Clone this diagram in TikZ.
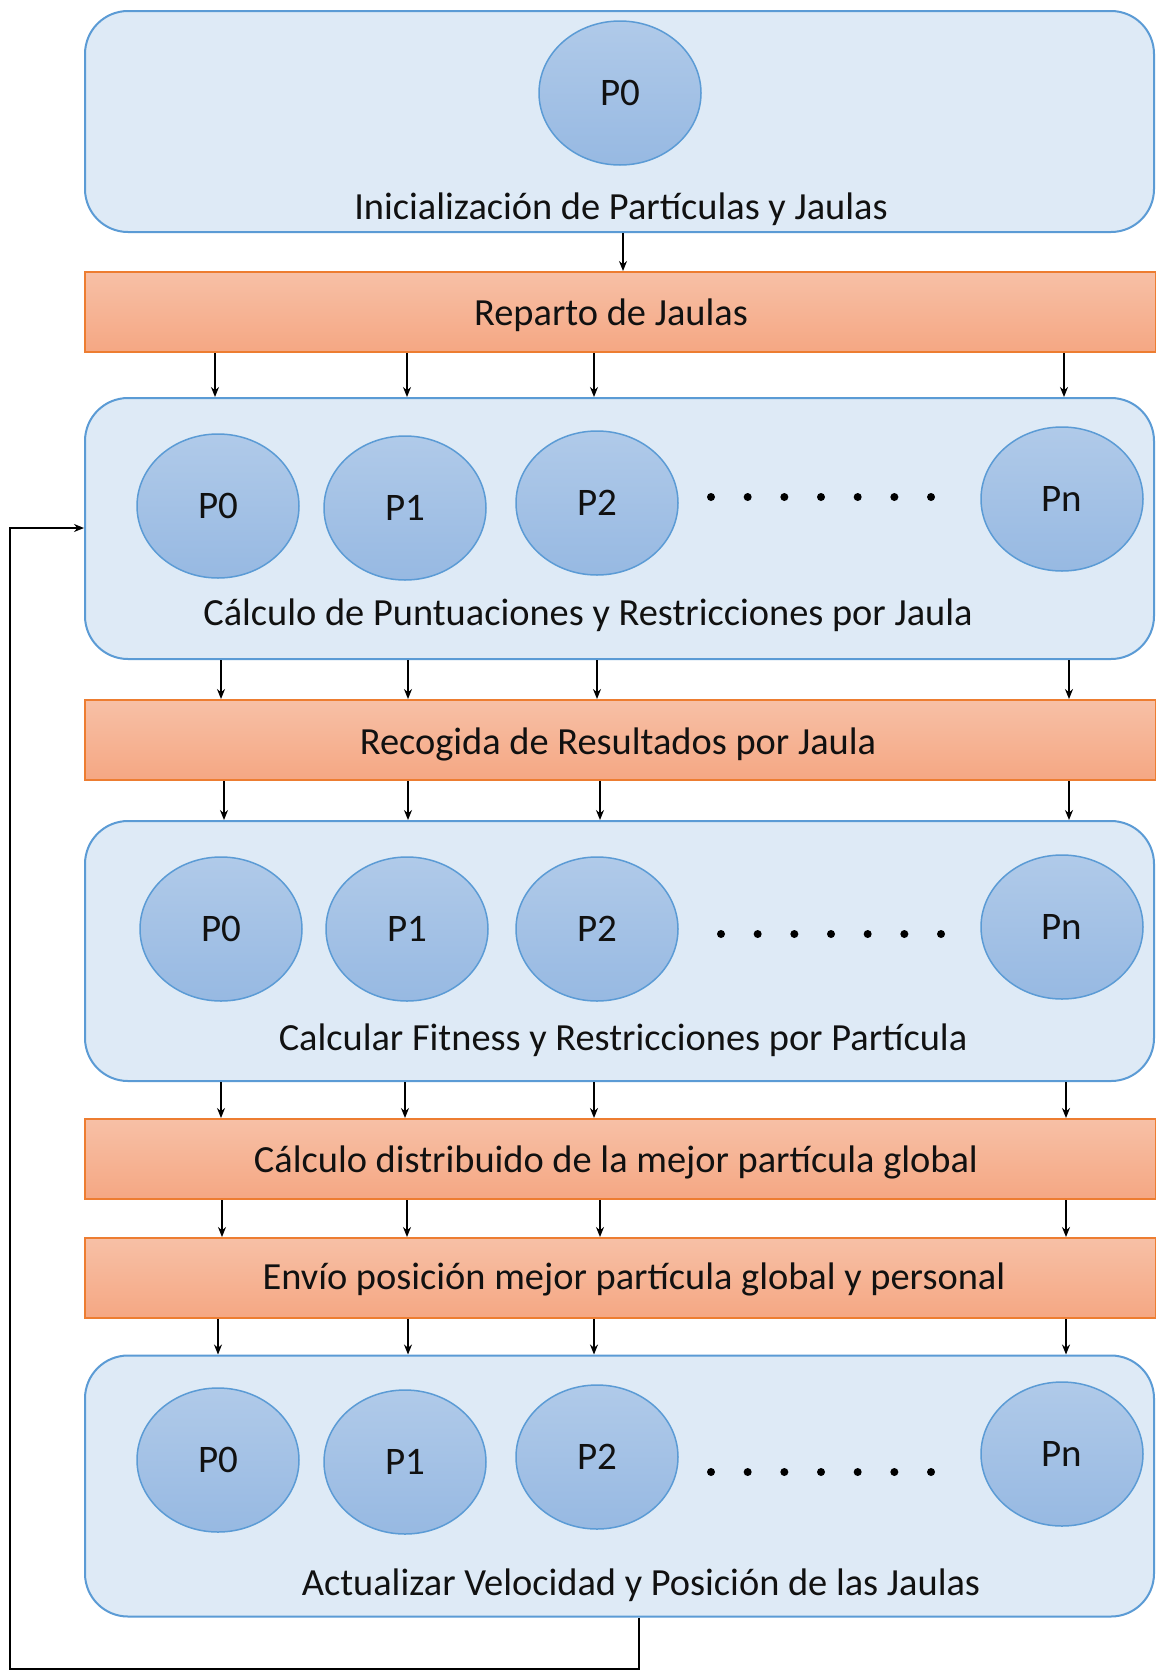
\documentclass[tikz,border=0pt]{standalone}
\usepackage{fontspec}
\setmainfont{Carlito}
\usetikzlibrary{shapes.geometric,arrows.meta}
\definecolor{boxfill}{HTML}{DEEAF6}
\definecolor{boxline}{HTML}{5B9BD5}
\definecolor{elltop}{HTML}{B0CAE9}
\definecolor{ellbot}{HTML}{97B9E2}
\definecolor{bartop}{HTML}{F7C0A6}
\definecolor{barbot}{HTML}{F5A783}
\definecolor{barline}{HTML}{ED7D31}
\definecolor{txt}{HTML}{111111}
\begin{document}
\begin{tikzpicture}[x=1pt,y=-1pt,
 bigbox/.style={draw=boxline, fill=boxfill, line width=2pt, rounded corners=43pt, minimum width=1069pt, inner sep=0pt},
 bar/.style={draw=barline, line width=2pt, top color=bartop, bottom color=barbot, minimum width=1071pt, minimum height=80pt, inner sep=0pt},
 part/.style={ellipse, draw=boxline, line width=1.5pt, top color=elltop, bottom color=ellbot, minimum width=162pt, minimum height=144pt, inner sep=0pt, font=\fontsize{39}{45}\selectfont, text=txt},
 lbl/.style={font=\fontsize{38.4}{44}\selectfont, text=txt, inner sep=0pt},
 arr/.style={-{Stealth[length=10pt,width=8pt]}, line width=1.6pt},
 dotm/.style={circle, fill=black, minimum size=8pt, inner sep=0pt}
]
\useasboundingbox (0,0) rectangle (1156,1671);
\fill[white] (0,0) rectangle (1156,1671);

% boxes
\node[bigbox, minimum height=221pt] (box1) at (619.5,121.5) {};
\node[bigbox, minimum height=261pt] (box2) at (619.5,528.5) {};
\node[bigbox, minimum height=260pt] (box3) at (619.5,951) {};
\node[bigbox, minimum height=261pt] (box4) at (619.5,1486) {};

% bars
\node[bar] (bar1) at (620.5,312) {};
\node[bar] (bar2) at (620.5,740) {};
\node[bar] (bar3) at (620.5,1159) {};
\node[bar] (bar4) at (620.5,1278) {};

% bar texts
\node[lbl] (t1) at (611,315) {Reparto de Jaulas};
\node[lbl] (t2) at (618,744) {Recogida de Resultados por Jaula};
\node[lbl] (t3) at (616,1162) {Cálculo distribuido de la mejor partícula global};
\node[lbl] (t4) at (634,1279) {Envío posición mejor partícula global y personal};

% box texts
\node[lbl] (b1t) at (621,209) {Inicialización de Partículas y Jaulas};
\node[lbl] (b2t) at (588,615) {Cálculo de Puntuaciones y Restricciones por Jaula};
\node[lbl] (b3t) at (623,1040) {Calcular Fitness y Restricciones por Partícula};
\node[lbl] (b4t) at (641,1585) {Actualizar Velocidad y Posición de las Jaulas};

% particles
\node[part] (a0) at (620,93) {P0};

\node[part] (c0) at (218,506) {P0};
\node[part] (c1) at (405,508) {P1};
\node[part] (c2) at (597,503) {P2};
\node[part] (cn) at (1062,499) {Pn};

\node[part] (d0) at (221,929) {P0};
\node[part] (d1) at (407,929) {P1};
\node[part] (d2) at (597,929) {P2};
\node[part] (dn) at (1062,927) {Pn};

\node[part] (e0) at (218,1460) {P0};
\node[part] (e1) at (405,1462) {P1};
\node[part] (e2) at (597,1457) {P2};
\node[part] (en) at (1062,1454) {Pn};

% dots
\foreach \i in {0,...,6} {
  \node[dotm] (dc\i) at (711+36.67*\i,497) {};
  \node[dotm] (dd\i) at (721+36.67*\i,934) {};
  \node[dotm] (de\i) at (711+36.67*\i,1472) {};
}

% arrows
\draw[arr] (623,0 |- box1.south) -- (623,0 |- bar1.north);
\foreach \x in {215,407,594,1064} \draw[arr] (\x,0 |- bar1.south) -- (\x,0 |- box2.north);
\foreach \x in {221,408,597,1069} \draw[arr] (\x,0 |- box2.south) -- (\x,0 |- bar2.north);
\foreach \x in {224,408,600,1069} \draw[arr] (\x,0 |- bar2.south) -- (\x,0 |- box3.north);
\foreach \x in {221,405,594,1066} \draw[arr] (\x,0 |- box3.south) -- (\x,0 |- bar3.north);
\foreach \x in {222,407,600,1066} \draw[arr] (\x,0 |- bar3.south) -- (\x,0 |- bar4.north);
\foreach \x in {218,408,594,1066} \draw[arr] (\x,0 |- bar4.south) -- (\x,0 |- box4.north);

% feedback loop
\coordinate (fb1) at (639,1669);
\coordinate (fb2) at (10,1669);
\coordinate (fb3) at (10,528);
\draw[arr] (639,0 |- box4.south) -- (fb1) -- (fb2) -- (fb3) -- (fb3 -| box2.west);
\end{tikzpicture}
\end{document}
